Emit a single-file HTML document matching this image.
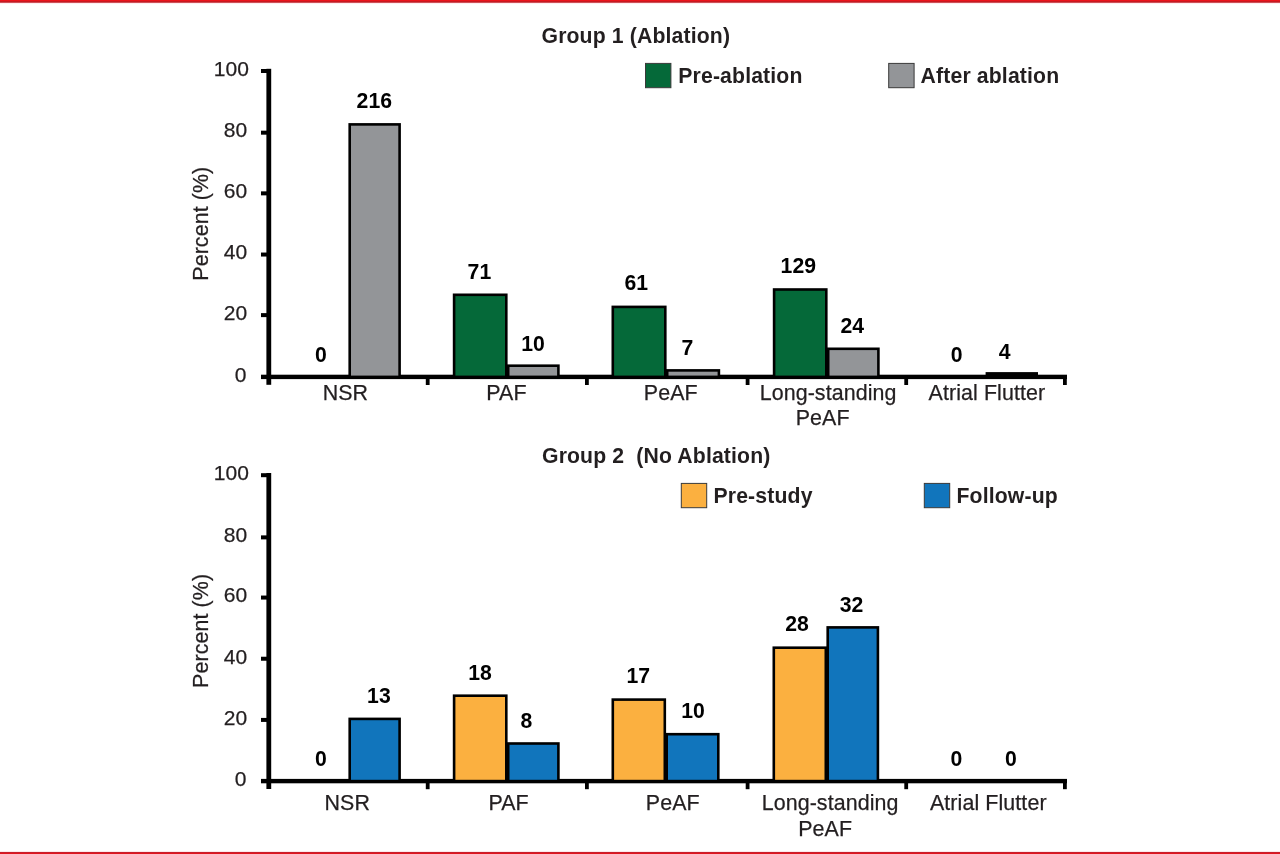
<!DOCTYPE html>
<html lang="en">
<head>
<meta charset="utf-8">
<title>Group 1 (Ablation) and Group 2 (No Ablation)</title>
<style>
html,body{margin:0;padding:0;background:#fff;}
body{width:1280px;height:854px;overflow:hidden;position:relative;}
svg{display:block;position:absolute;left:0;top:0;}
svg text{font-family:"Liberation Sans",sans-serif;fill:#231f20;letter-spacing:0.1px;stroke:#231f20;stroke-width:0.25px;}
svg text.v{fill:#000;font-weight:bold;letter-spacing:0;stroke:none;}
svg text.b{font-weight:bold;letter-spacing:0.15px;stroke:none;}
</style>
</head>
<body>
<svg width="1280" height="854" viewBox="0 0 1280 854">
<rect x="0" y="0" width="1280" height="854" fill="#fff"/>
<rect x="0" y="0" width="1280" height="1" fill="#ec131b"/>
<rect x="0" y="1" width="1280" height="1" fill="#c61920"/>
<rect x="0" y="2" width="1280" height="1" fill="#cf5058"/>
<rect x="0" y="3" width="1280" height="1" fill="#fdeef0"/>
<rect x="0" y="851" width="1280" height="1" fill="#fbe9eb"/>
<rect x="0" y="852" width="1280" height="1" fill="#c6202b"/>
<rect x="0" y="853" width="1280" height="1" fill="#e0161f"/>
<rect x="266.4" y="68.80" width="4.8" height="316.00" fill="#000"/>
<rect x="261" y="374.70" width="806" height="4.4" fill="#000"/>
<rect x="261" y="69.00" width="7" height="4.0" fill="#000"/>
<rect x="261" y="130.68" width="7" height="4.0" fill="#000"/>
<rect x="261" y="191.36" width="7" height="4.0" fill="#000"/>
<rect x="261" y="252.54" width="7" height="4.0" fill="#000"/>
<rect x="261" y="313.12" width="7" height="4.0" fill="#000"/>
<rect x="425.80" y="376.90" width="3.8" height="8.1" fill="#000"/>
<rect x="585.00" y="376.90" width="3.8" height="8.1" fill="#000"/>
<rect x="745.70" y="376.90" width="3.8" height="8.1" fill="#000"/>
<rect x="904.30" y="376.90" width="3.8" height="8.1" fill="#000"/>
<rect x="1063.00" y="376.90" width="3.8" height="8.1" fill="#000"/>
<text x="249.0" y="75.80" text-anchor="end" font-size="21.0">100</text>
<text x="247.4" y="137.48" text-anchor="end" font-size="21.0">80</text>
<text x="247.4" y="198.16" text-anchor="end" font-size="21.0">60</text>
<text x="247.4" y="259.34" text-anchor="end" font-size="21.0">40</text>
<text x="247.4" y="319.92" text-anchor="end" font-size="21.0">20</text>
<text x="246.5" y="381.70" text-anchor="end" font-size="21.0">0</text>
<text transform="translate(208.4 223.70) rotate(-90)" text-anchor="middle" font-size="21.4">Percent (%)</text>
<rect x="349.70" y="124.40" width="49.90" height="252.50" fill="#939598" stroke="#000" stroke-width="2.6"/>
<rect x="454.10" y="294.80" width="52.20" height="82.10" fill="#056939" stroke="#000" stroke-width="2.6"/>
<rect x="508.20" y="365.70" width="50.20" height="11.20" fill="#939598" stroke="#000" stroke-width="2.6"/>
<rect x="612.80" y="306.90" width="52.50" height="70.00" fill="#056939" stroke="#000" stroke-width="2.6"/>
<rect x="667.20" y="370.40" width="51.70" height="6.50" fill="#939598" stroke="#000" stroke-width="2.6"/>
<rect x="774.10" y="289.50" width="52.20" height="87.40" fill="#056939" stroke="#000" stroke-width="2.6"/>
<rect x="828.20" y="348.80" width="50.20" height="28.10" fill="#939598" stroke="#000" stroke-width="2.6"/>
<rect x="985.60" y="372.10" width="52.40" height="4.80" fill="#000"/>
<text x="321.00" y="361.80" text-anchor="middle" class="v" font-size="21.2">0</text>
<text x="374.30" y="107.90" text-anchor="middle" class="v" font-size="21.2">216</text>
<text x="479.40" y="279.30" text-anchor="middle" class="v" font-size="21.2">71</text>
<text x="533.00" y="351.00" text-anchor="middle" class="v" font-size="21.2">10</text>
<text x="636.30" y="290.00" text-anchor="middle" class="v" font-size="21.2">61</text>
<text x="687.50" y="355.10" text-anchor="middle" class="v" font-size="21.2">7</text>
<text x="798.30" y="272.90" text-anchor="middle" class="v" font-size="21.2">129</text>
<text x="852.20" y="333.00" text-anchor="middle" class="v" font-size="21.2">24</text>
<text x="956.60" y="362.00" text-anchor="middle" class="v" font-size="21.2">0</text>
<text x="1004.60" y="358.50" text-anchor="middle" class="v" font-size="21.2">4</text>
<text x="345.40" y="400.40" text-anchor="middle" font-size="21.4">NSR</text>
<text x="506.50" y="400.40" text-anchor="middle" font-size="21.4">PAF</text>
<text x="670.80" y="400.40" text-anchor="middle" font-size="21.4">PeAF</text>
<text x="828.10" y="400.40" text-anchor="middle" font-size="21.4">Long-standing</text>
<text x="822.70" y="425.40" text-anchor="middle" font-size="21.4">PeAF</text>
<text x="986.90" y="400.40" text-anchor="middle" font-size="21.4">Atrial Flutter</text>
<text x="541.5" y="43.20" class="b" font-size="21.2" xml:space="preserve" style="white-space:pre">Group 1 (Ablation)</text>
<rect x="645.50" y="63.40" width="25.4" height="24.3" fill="#056939" stroke="#3a3a3a" stroke-width="1"/>
<text x="678.3" y="83.30" class="b" font-size="21.2">Pre-ablation</text>
<rect x="888.70" y="63.40" width="25.4" height="24.3" fill="#939598" stroke="#3a3a3a" stroke-width="1"/>
<text x="920.6" y="83.30" class="b" font-size="21.2">After ablation</text>
<rect x="266.4" y="473.00" width="4.8" height="316.00" fill="#000"/>
<rect x="261" y="778.90" width="806" height="4.4" fill="#000"/>
<rect x="261" y="473.20" width="7" height="4.0" fill="#000"/>
<rect x="261" y="535.38" width="7" height="4.0" fill="#000"/>
<rect x="261" y="595.56" width="7" height="4.0" fill="#000"/>
<rect x="261" y="656.74" width="7" height="4.0" fill="#000"/>
<rect x="261" y="717.92" width="7" height="4.0" fill="#000"/>
<rect x="425.80" y="781.10" width="3.8" height="8.1" fill="#000"/>
<rect x="585.00" y="781.10" width="3.8" height="8.1" fill="#000"/>
<rect x="745.70" y="781.10" width="3.8" height="8.1" fill="#000"/>
<rect x="904.30" y="781.10" width="3.8" height="8.1" fill="#000"/>
<rect x="1063.00" y="781.10" width="3.8" height="8.1" fill="#000"/>
<text x="249.0" y="480.00" text-anchor="end" font-size="21.0">100</text>
<text x="247.4" y="542.18" text-anchor="end" font-size="21.0">80</text>
<text x="247.4" y="602.36" text-anchor="end" font-size="21.0">60</text>
<text x="247.4" y="663.54" text-anchor="end" font-size="21.0">40</text>
<text x="247.4" y="724.72" text-anchor="end" font-size="21.0">20</text>
<text x="246.5" y="785.90" text-anchor="end" font-size="21.0">0</text>
<text transform="translate(208.4 630.90) rotate(-90)" text-anchor="middle" font-size="21.4">Percent (%)</text>
<rect x="349.70" y="718.90" width="49.90" height="62.20" fill="#1175bc" stroke="#000" stroke-width="2.6"/>
<rect x="454.10" y="695.70" width="52.20" height="85.40" fill="#fbb040" stroke="#000" stroke-width="2.6"/>
<rect x="508.20" y="743.50" width="50.20" height="37.60" fill="#1175bc" stroke="#000" stroke-width="2.6"/>
<rect x="612.80" y="699.60" width="52.00" height="81.50" fill="#fbb040" stroke="#000" stroke-width="2.6"/>
<rect x="666.70" y="734.20" width="51.60" height="46.90" fill="#1175bc" stroke="#000" stroke-width="2.6"/>
<rect x="773.80" y="647.70" width="52.00" height="133.40" fill="#fbb040" stroke="#000" stroke-width="2.6"/>
<rect x="827.70" y="627.40" width="50.20" height="153.70" fill="#1175bc" stroke="#000" stroke-width="2.6"/>
<text x="321.00" y="766.20" text-anchor="middle" class="v" font-size="21.2">0</text>
<text x="378.90" y="702.80" text-anchor="middle" class="v" font-size="21.2">13</text>
<text x="480.10" y="680.20" text-anchor="middle" class="v" font-size="21.2">18</text>
<text x="526.30" y="727.60" text-anchor="middle" class="v" font-size="21.2">8</text>
<text x="638.30" y="683.40" text-anchor="middle" class="v" font-size="21.2">17</text>
<text x="693.00" y="718.20" text-anchor="middle" class="v" font-size="21.2">10</text>
<text x="797.00" y="631.20" text-anchor="middle" class="v" font-size="21.2">28</text>
<text x="851.50" y="611.80" text-anchor="middle" class="v" font-size="21.2">32</text>
<text x="956.50" y="766.30" text-anchor="middle" class="v" font-size="21.2">0</text>
<text x="1010.80" y="766.30" text-anchor="middle" class="v" font-size="21.2">0</text>
<text x="347.30" y="810.40" text-anchor="middle" font-size="21.4">NSR</text>
<text x="508.60" y="810.40" text-anchor="middle" font-size="21.4">PAF</text>
<text x="672.80" y="810.40" text-anchor="middle" font-size="21.4">PeAF</text>
<text x="830.10" y="810.40" text-anchor="middle" font-size="21.4">Long-standing</text>
<text x="825.20" y="835.60" text-anchor="middle" font-size="21.4">PeAF</text>
<text x="988.30" y="810.40" text-anchor="middle" font-size="21.4">Atrial Flutter</text>
<text x="542" y="463.20" class="b" font-size="21.2" xml:space="preserve" style="white-space:pre">Group 2  (No Ablation)</text>
<rect x="681.30" y="483.40" width="25.4" height="24.3" fill="#fbb040" stroke="#3a3a3a" stroke-width="1"/>
<text x="713.5" y="503.30" class="b" font-size="21.2">Pre-study</text>
<rect x="924.30" y="483.40" width="25.4" height="24.3" fill="#1175bc" stroke="#3a3a3a" stroke-width="1"/>
<text x="956.5" y="503.30" class="b" font-size="21.2">Follow-up</text>
</svg>
</body>
</html>
